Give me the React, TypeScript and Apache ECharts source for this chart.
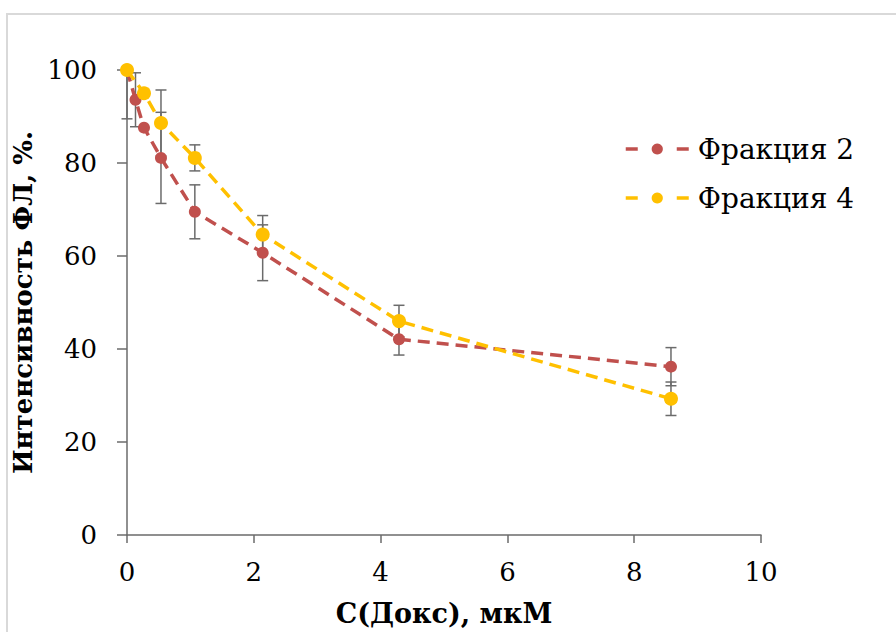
import React, { useEffect, useRef } from "react";
import * as echarts from "echarts";

const xF2 = [0, 0.134, 0.268, 0.536, 1.07, 2.14, 4.29, 8.58];
const yF2 = [100, 93.6, 87.6, 81.1, 69.5, 60.7, 42.1, 36.2];
const errF2 = [10.5, 5.8, 0, 9.8, 5.8, 6.0, 3.4, 4.1];

const xF4 = [0, 0.268, 0.536, 1.07, 2.14, 4.29, 8.58];
const yF4 = [100, 95.0, 88.6, 81.1, 64.6, 46.0, 29.3];
const errF4 = [0, 0, 7.1, 2.8, 4.1, 3.4, 3.6];

const seriesNames = ["Фракция 2", "Фракция 4"];
const xTicks = [0, 2, 4, 6, 8, 10];
const yTicks = [0, 20, 40, 60, 80, 100];
const xTitle = "C(Докс), мкМ";
const yTitle = "Интенсивность ФЛ, %.";

const FONT = "DejaVu Serif";
const RED = "#C0504D";
const YELLOW = "#FFC000";
const ERR = "#6b6b6b";
const AXIS = "#6b6b6b";

export default function App() {
  const ref = useRef<HTMLDivElement>(null);
  useEffect(() => {
    if (!ref.current) return;
    const chart = echarts.init(ref.current, null, { renderer: "svg" });
    const yMax = yTicks[yTicks.length - 1];
    const errData: number[][] = [];
    xF2.forEach((x, i) => errData.push([x, yF2[i], errF2[i]]));
    xF4.forEach((x, i) => errData.push([x, yF4[i], errF4[i]]));

    const option: any = {
      animation: false,
      backgroundColor: "#ffffff",
      textStyle: { fontFamily: FONT },
      graphic: [
        {
          type: "rect",
          shape: { x: 7, y: 14, width: 920, height: 660 },
          style: { fill: "none", stroke: "#d9d9d9", lineWidth: 2 },
          silent: true,
        },
      ],
      grid: { left: 127, right: 135, top: 70, bottom: 96, containLabel: false },
      legend: {
        orient: "vertical",
        left: 619,
        top: 129,
        itemWidth: 63,
        itemHeight: 14,
        itemGap: 19,
        textStyle: { fontFamily: FONT, fontSize: 28, color: "#000", lineHeight: 30, padding: [0, 0, 0, 4] },
        data: [
          { name: seriesNames[0], lineStyle: { type: [12, 39], width: 3.5, color: RED } },
          { name: seriesNames[1], lineStyle: { type: [12, 39], width: 3.5, color: YELLOW } },
        ],
      },
      xAxis: {
        type: "value",
        min: xTicks[0],
        max: xTicks[xTicks.length - 1],
        interval: 2,
        name: xTitle,
        nameLocation: "middle",
        nameGap: 65,
        nameTextStyle: { fontFamily: FONT, fontSize: 27, fontWeight: "bold", color: "#000" },
        axisLine: { show: true, onZero: false, lineStyle: { color: AXIS, width: 1.5 } },
        axisTick: { show: true, inside: false, length: 8, lineStyle: { color: AXIS, width: 1.5 } },
        axisLabel: { fontFamily: FONT, fontSize: 26, color: "#000", margin: 24 },
        splitLine: { show: false },
      },
      yAxis: {
        type: "value",
        min: yTicks[0],
        max: yMax,
        interval: 20,
        name: yTitle,
        nameLocation: "middle",
        nameGap: 80,
        nameTextStyle: { fontFamily: FONT, fontSize: 26, fontWeight: "bold", color: "#000" },
        axisLine: { show: true, onZero: false, lineStyle: { color: AXIS, width: 1.5 } },
        axisTick: { show: true, inside: false, length: 10, lineStyle: { color: AXIS, width: 1.5 } },
        axisLabel: { fontFamily: FONT, fontSize: 26, color: "#000", margin: 30 },
        splitLine: { show: false },
      },
      series: [
        {
          type: "custom",
          name: "err",
          z: 1,
          silent: true,
          data: errData,
          renderItem: (params: any, api: any) => {
            const x = api.value(0);
            const y = api.value(1);
            const e = api.value(2);
            if (!e) return null;
            const hiV = Math.min(y + e, yMax);
            const loV = y - e;
            const top = api.coord([x, hiV]);
            const bot = api.coord([x, loV]);
            const hw = 5.5;
            const style = { stroke: ERR, lineWidth: 1.5 };
            const children: any[] = [
              { type: "line", shape: { x1: top[0], y1: top[1], x2: bot[0], y2: bot[1] }, style },
              { type: "line", shape: { x1: bot[0] - hw, y1: bot[1], x2: bot[0] + hw, y2: bot[1] }, style },
            ];
            if (y + e <= yMax) {
              children.push({ type: "line", shape: { x1: top[0] - hw, y1: top[1], x2: top[0] + hw, y2: top[1] }, style });
            }
            return { type: "group", children };
          },
        },
        {
          type: "line",
          name: seriesNames[0],
          z: 3,
          data: xF2.map((x, i) => [x, yF2[i]]),
          symbol: "circle",
          symbolSize: 12,
          showAllSymbol: true,
          itemStyle: { color: RED },
          lineStyle: { color: RED, width: 3.5, type: [12, 7] },
        },
        {
          type: "line",
          name: seriesNames[1],
          z: 4,
          data: xF4.map((x, i) => [x, yF4[i]]),
          symbol: "circle",
          symbolSize: 14,
          showAllSymbol: true,
          itemStyle: { color: YELLOW },
          lineStyle: { color: YELLOW, width: 3.5, type: [12, 7] },
        },
      ],
    };
    chart.setOption(option);
    return () => chart.dispose();
  }, []);
  return (
    <div
      ref={ref}
      style={{ position: "absolute", left: 0, top: 0, width: 896, height: 632 }}
    />
  );
}
